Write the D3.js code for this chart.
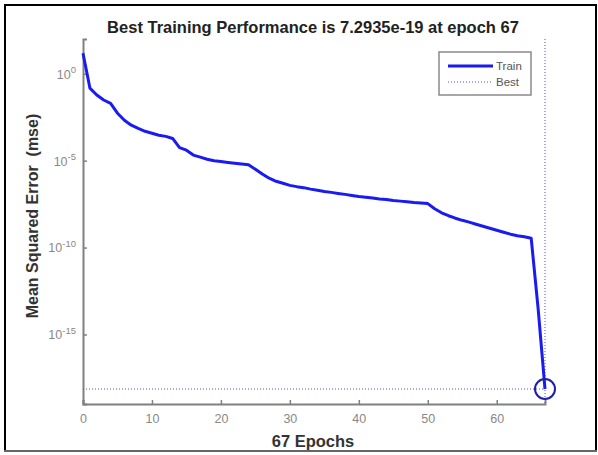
<!DOCTYPE html>
<html>
<head>
<meta charset="utf-8">
<script src="https://cdn.jsdelivr.net/npm/d3@7"></script>
<style>
  body { margin: 0; background: #fff; }
  svg { font-family: "Liberation Sans", Arial, sans-serif; }
</style>
</head>
<body>
<div id="chart"></div>
<script>
// training performance per epoch (mse)
const epochs = d3.range(0, 68);
const trainMse = [
  1.5e1, 1.5e-1, 6.0e-2, 3.1e-2, 2.0e-2, 5.4e-3, 2.1e-3, 1.1e-3, 7.2e-4, 4.9e-4,
  3.8e-4, 2.9e-4, 2.5e-4, 1.9e-4, 5.6e-5, 4.0e-5, 2.1e-5, 1.6e-5, 1.2e-5, 9.8e-6,
  8.9e-6, 7.9e-6, 7.1e-6, 6.5e-6, 5.8e-6, 3.2e-6, 1.7e-6, 9.8e-7, 6.5e-7, 5.0e-7,
  3.8e-7, 3.2e-7, 2.8e-7, 2.3e-7, 2.0e-7, 1.7e-7, 1.5e-7, 1.3e-7, 1.15e-7, 1.0e-7,
  8.7e-8, 7.8e-8, 7.1e-8, 6.3e-8, 5.8e-8, 5.1e-8, 4.7e-8, 4.3e-8, 3.9e-8, 3.7e-8,
  3.4e-8, 1.7e-8, 1.0e-8, 6.8e-9, 4.9e-9, 3.7e-9, 2.9e-9, 2.2e-9, 1.7e-9, 1.3e-9,
  1.0e-9, 7.6e-10, 5.9e-10, 4.8e-10, 4.2e-10, 3.4e-10, 3.2e-14, 7.2935e-19
];
const bestEpoch = 67;
const bestValue = 7.2935e-19;
const xTicks = [0, 10, 20, 30, 40, 50, 60];
const yTickExps = [0, -5, -10, -15];

const width = 598, height = 455;
const margin = { left: 83, right: 53, top: 39, bottom: 51 };

const svg = d3.select("#chart").append("svg")
    .attr("width", width)
    .attr("height", height);

// outer frame
svg.append("path")
    .attr("d", "M5,451 L5,5 L596,5 L596,451")
    .attr("fill", "none")
    .attr("stroke", "#000")
    .attr("stroke-width", 2);
svg.append("line")
    .attr("x1", 4).attr("x2", 597).attr("y1", 451).attr("y2", 451)
    .attr("stroke", "#666").attr("stroke-width", 2);

const x = d3.scaleLinear()
    .domain([0, 67])
    .range([margin.left, width - margin.right]);

const y = d3.scaleLog()
    .domain([1e-19, 1e2])
    .range([height - margin.bottom, margin.top]);

// axes
const xAxis = svg.append("g")
    .attr("transform", `translate(0,${height - margin.bottom})`)
    .call(d3.axisBottom(x).tickValues(xTicks).tickSize(-4).tickPadding(10).tickFormat(d3.format("d")));

const yAxis = svg.append("g")
    .attr("transform", `translate(${margin.left},0)`)
    .call(d3.axisLeft(y).tickValues(yTickExps.map(e => Math.pow(10, e))).tickSize(-4).tickPadding(8).tickFormat(""));

[xAxis, yAxis].forEach(g => {
    g.select(".domain").attr("stroke", "#808080").attr("stroke-width", 2);
    g.selectAll(".tick line").attr("stroke", "#808080").attr("stroke-width", 1.5);
    g.selectAll("text").attr("fill", "#888").attr("font-size", 12.5);
});

yAxis.selectAll(".tick").each(function(d, i) {
    const t = d3.select(this).select("text")
        .attr("x", -7)
        .attr("dy", "0.35em")
        .attr("text-anchor", "end");
    t.append("tspan").text("10");
    t.append("tspan")
        .attr("dy", "-0.55em")
        .attr("font-size", 9.5)
        .text(yTickExps[i]);
});

// best markers
svg.append("line")
    .attr("x1", x(0)).attr("x2", x(bestEpoch))
    .attr("y1", y(bestValue)).attr("y2", y(bestValue))
    .attr("stroke", "#5050e0")
    .attr("stroke-width", 1)
    .attr("stroke-dasharray", "1,2");

svg.append("line")
    .attr("x1", x(bestEpoch)).attr("x2", x(bestEpoch))
    .attr("y1", margin.top).attr("y2", height - margin.bottom)
    .attr("stroke", "#5050e0")
    .attr("stroke-width", 1)
    .attr("stroke-dasharray", "1,2");

// train curve
const line = d3.line()
    .x((d, i) => x(epochs[i]))
    .y(d => y(d));

svg.append("path")
    .datum(trainMse)
    .attr("fill", "none")
    .attr("stroke", "#1a1af2")
    .attr("stroke-width", 3)
    .attr("stroke-linejoin", "round")
    .attr("d", line);

svg.append("circle")
    .attr("cx", x(bestEpoch))
    .attr("cy", y(bestValue))
    .attr("r", 10)
    .attr("fill", "none")
    .attr("stroke", "#1f1fa8")
    .attr("stroke-width", 2);

// legend
const legend = svg.append("g").attr("transform", "translate(439,52)");
legend.append("rect")
    .attr("width", 92).attr("height", 43)
    .attr("fill", "#fff")
    .attr("stroke", "#8a8a8a")
    .attr("stroke-width", 1.5);
legend.append("line")
    .attr("x1", 9).attr("x2", 54).attr("y1", 14).attr("y2", 14)
    .attr("stroke", "#1a1af2").attr("stroke-width", 3);
legend.append("line")
    .attr("x1", 9).attr("x2", 54).attr("y1", 30).attr("y2", 30)
    .attr("stroke", "#5050e0").attr("stroke-width", 1).attr("stroke-dasharray", "1,2");
legend.append("text").attr("x", 57).attr("y", 18).attr("font-size", 11.5).attr("fill", "#555").text("Train");
legend.append("text").attr("x", 57).attr("y", 34).attr("font-size", 11.5).attr("fill", "#555").text("Best");

// titles
svg.append("text")
    .attr("x", 313).attr("y", 33)
    .attr("text-anchor", "middle")
    .attr("font-size", 16.5).attr("font-weight", "bold")
    .attr("fill", "#222")
    .text("Best Training Performance is 7.2935e-19 at epoch 67");

svg.append("text")
    .attr("x", 313).attr("y", 447)
    .attr("text-anchor", "middle")
    .attr("font-size", 16.5).attr("font-weight", "bold")
    .attr("fill", "#333")
    .text("67 Epochs");

svg.append("text")
    .attr("transform", "translate(38,216) rotate(-90)")
    .attr("text-anchor", "middle")
    .attr("font-size", 16).attr("font-weight", "bold")
    .attr("fill", "#333")
    .attr("xml:space", "preserve")
    .text("Mean Squared Error  (mse)");
</script>
</body>
</html>
